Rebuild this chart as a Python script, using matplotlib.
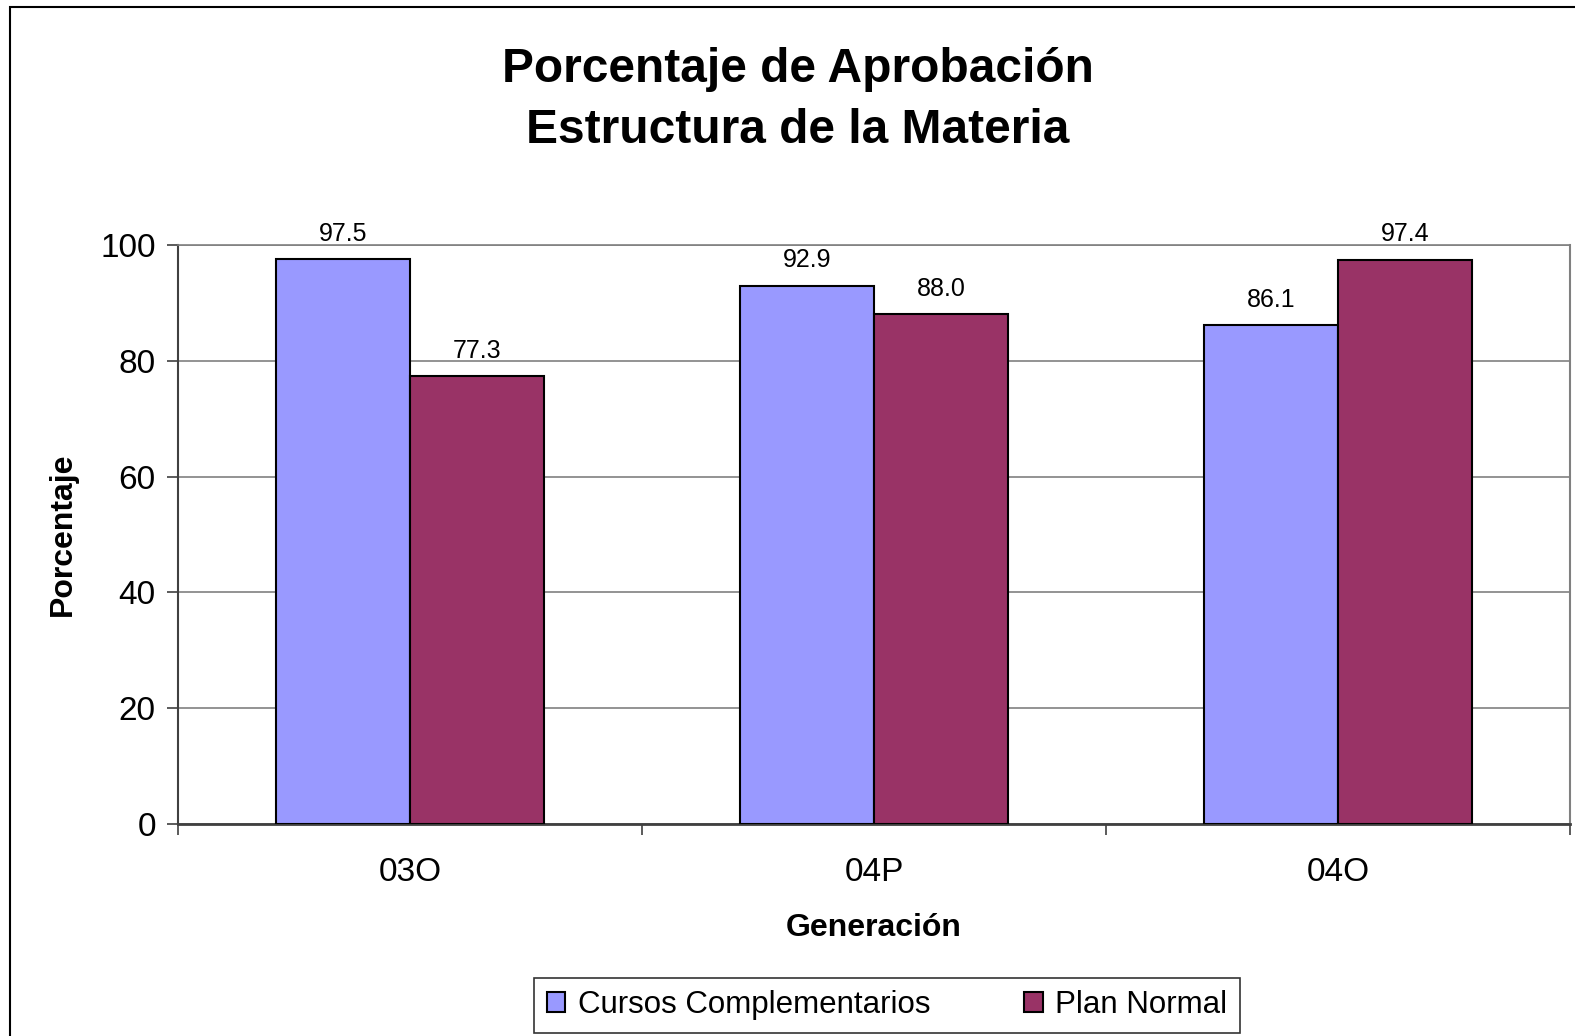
import matplotlib
matplotlib.use("Agg")
import matplotlib.pyplot as plt
from matplotlib.patches import Rectangle
import numpy as np

plt.rcParams['font.family'] = ['Liberation Sans', 'DejaVu Sans']

generaciones = ["03O", "04P", "04O"]
cursos_complementarios = [97.5, 92.9, 86.1]
plan_normal = [77.3, 88.0, 97.4]
series_names = ["Cursos Complementarios", "Plan Normal"]
y_ticks = [0, 20, 40, 60, 80, 100]

color_cursos = "#9999FF"
color_plan = "#993366"

W, H = 1575, 1036
fig = plt.figure(figsize=(W / 100, H / 100), dpi=100)
fig.patch.set_facecolor("white")

# outer chart frame (runs off the right and bottom edges)
fig.add_artist(Rectangle((10 / W, -0.1), 1.2, 1 - 7 / H + 0.1,
                         transform=fig.transFigure, fill=False,
                         edgecolor="black", linewidth=1.5))

ax = fig.add_axes([178 / W, 1 - 824 / H, (1570 - 178) / W, (824 - 245) / H])

x = np.arange(len(generaciones))
w = 0.288
b1 = ax.bar(x - w / 2, cursos_complementarios, width=w, color=color_cursos,
            edgecolor="black", linewidth=1.5, label=series_names[0], zorder=3)
b2 = ax.bar(x + w / 2, plan_normal, width=w, color=color_plan,
            edgecolor="black", linewidth=1.5, label=series_names[1], zorder=3)

for bars, vals in ((b1, cursos_complementarios), (b2, plan_normal)):
    for rect, v in zip(bars, vals):
        ax.annotate(f"{v:.1f}", (rect.get_x() + rect.get_width() / 2, v),
                    xytext=(0, 10), textcoords="offset points",
                    ha="center", va="bottom", fontsize=18)

ax.set_xlim(-0.5, 2.5)
ax.set_ylim(0, 100)
ax.set_yticks(y_ticks)
ax.set_yticklabels([str(t) for t in y_ticks], fontsize=24)
ax.yaxis.grid(True, color="#808080", linewidth=1.2, zorder=0)
ax.set_axisbelow(True)

# category labels centred, ticks on category boundaries
ax.set_xticks(x)
ax.set_xticklabels(generaciones, fontsize=24)
ax.set_xticks([-0.5, 0.5, 1.5, 2.5], minor=True)
ax.tick_params(axis="x", which="major", length=0, pad=24)
ax.tick_params(axis="x", which="minor", length=8, width=1.2, color="#404040", direction="out")
ax.tick_params(axis="y", length=8, width=1.2, color="#404040", direction="out", pad=8)

ax.spines["left"].set_color("#404040")
ax.spines["left"].set_linewidth(1.5)
ax.spines["bottom"].set_color("#404040")
ax.spines["bottom"].set_linewidth(2)
ax.spines["top"].set_color("#808080")
ax.spines["top"].set_linewidth(1.2)
ax.spines["right"].set_color("#808080")
ax.spines["right"].set_linewidth(1.5)

ax.set_ylabel("Porcentaje", fontsize=23, fontweight="bold", labelpad=16)
ax.set_xlabel("Generación", fontsize=23, fontweight="bold", labelpad=18)

fig.text(798 / W, 1 - 100 / H, "Porcentaje de Aprobación\nEstructura de la Materia",
         ha="center", va="center", fontsize=34.5, fontweight="bold", linespacing=1.45)

leg = fig.legend(handles=[b1, b2], labels=series_names, loc="center",
                 bbox_to_anchor=(887 / W, 1 - 1005 / H), ncol=2,
                 fontsize=22.5, frameon=True, fancybox=False, edgecolor="black",
                 handlelength=0.6, handleheight=0.6, handletextpad=0.4,
                 columnspacing=3.0, borderpad=0.4)
leg.get_frame().set_linewidth(1.2)

fig.savefig("out.png", dpi=100, facecolor="white")
